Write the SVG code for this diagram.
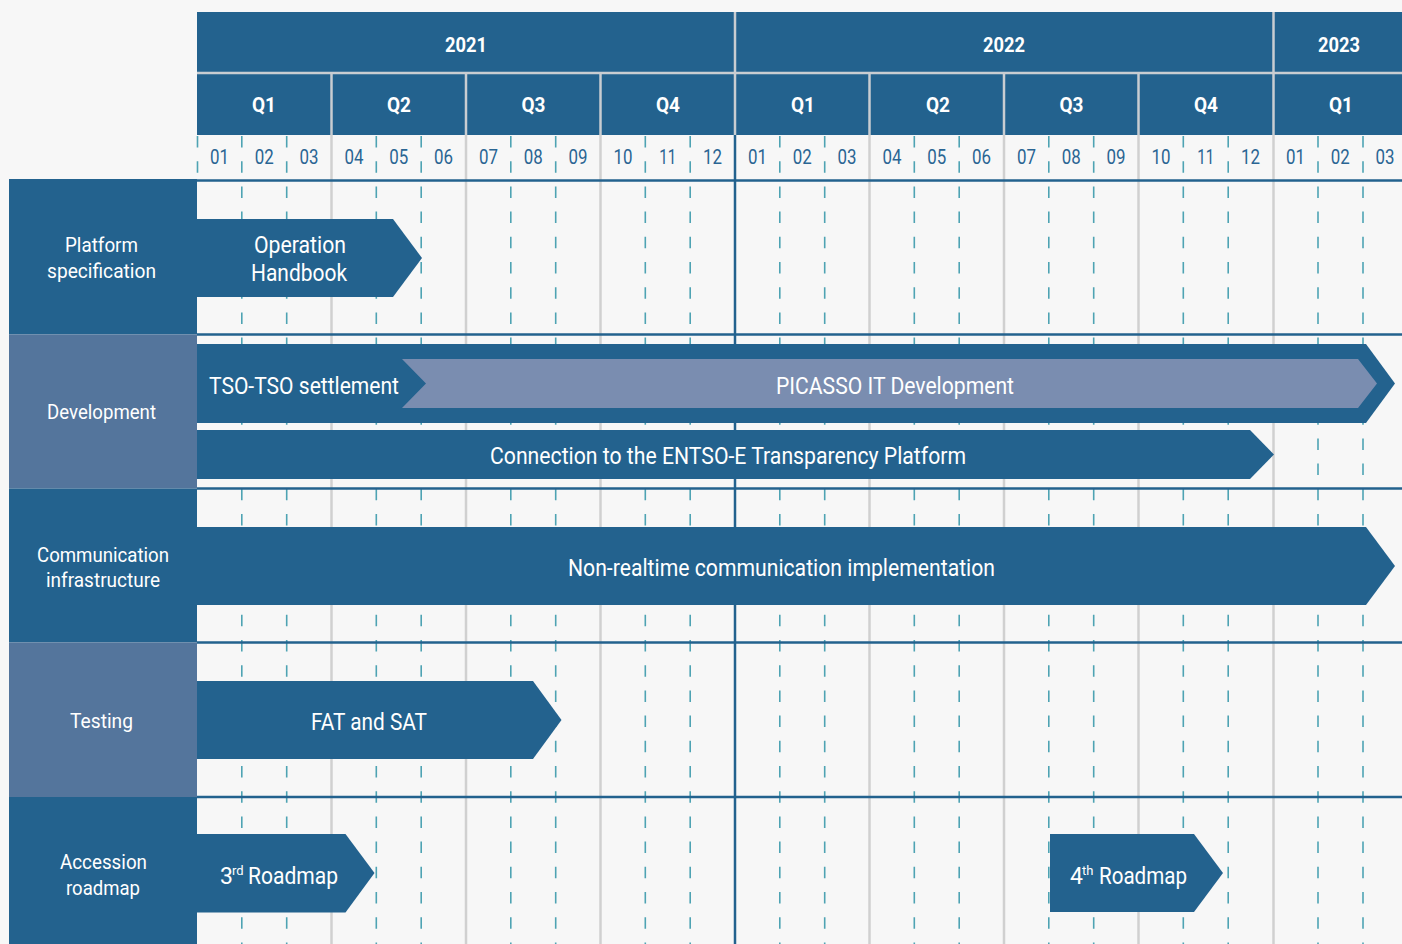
<svg xmlns="http://www.w3.org/2000/svg" width="1402" height="944" viewBox="0 0 1402 944">
<style>
.hd{fill:#23628e}
.sep{stroke:#c9cdd1;stroke-width:2.5}
.q{stroke:#d0d0d0;stroke-width:2.5}
.yl{stroke:#23628e;stroke-width:2.5}
.dash{stroke:#4ea3b3;stroke-width:1.6;stroke-dasharray:11.5 13.7}
.row{stroke:#23628e;stroke-width:2.6}
.dark{fill:#23628e}
.light{fill:#54759c}
.pic{fill:#7a8db0}
text{font-family:Roboto,"Liberation Sans",sans-serif;fill:#ffffff;text-anchor:middle}
.yr{font-size:21px;font-weight:bold}
.mo{font-size:20px;fill:#2a6593}
.lb{font-size:21px}
.bar{font-size:23px}
</style>
<rect x="0" y="0" width="1402" height="944" fill="#f7f7f7"/>

<g id="header">
  <rect class="hd" x="197" y="12" width="1205" height="123"/>
  <line class="sep" x1="197" y1="73" x2="1402" y2="73"/>
  <line class="sep" x1="735" y1="12" x2="735" y2="135"/>
  <line class="sep" x1="1273.5" y1="12" x2="1273.5" y2="135"/>
  <g class="sep">
    <line x1="331.5" y1="74" x2="331.5" y2="135"/>
    <line x1="466" y1="74" x2="466" y2="135"/>
    <line x1="600.5" y1="74" x2="600.5" y2="135"/>
    <line x1="869.5" y1="74" x2="869.5" y2="135"/>
    <line x1="1004" y1="74" x2="1004" y2="135"/>
    <line x1="1138.5" y1="74" x2="1138.5" y2="135"/>
  </g>
  <text class="yr" x="466" y="51.5" textLength="42" lengthAdjust="spacingAndGlyphs">2021</text>
  <text class="yr" x="1004" y="51.5" textLength="42" lengthAdjust="spacingAndGlyphs">2022</text>
  <text class="yr" x="1339" y="51.5" textLength="42" lengthAdjust="spacingAndGlyphs">2023</text>
  <g class="yr">
    <text class="yr" x="264" y="111.5" textLength="24" lengthAdjust="spacingAndGlyphs">Q1</text>
    <text class="yr" x="399" y="111.5" textLength="24" lengthAdjust="spacingAndGlyphs">Q2</text>
    <text class="yr" x="533.5" y="111.5" textLength="24" lengthAdjust="spacingAndGlyphs">Q3</text>
    <text class="yr" x="668" y="111.5" textLength="24" lengthAdjust="spacingAndGlyphs">Q4</text>
    <text class="yr" x="803" y="111.5" textLength="24" lengthAdjust="spacingAndGlyphs">Q1</text>
    <text class="yr" x="938" y="111.5" textLength="24" lengthAdjust="spacingAndGlyphs">Q2</text>
    <text class="yr" x="1071.5" y="111.5" textLength="24" lengthAdjust="spacingAndGlyphs">Q3</text>
    <text class="yr" x="1206" y="111.5" textLength="24" lengthAdjust="spacingAndGlyphs">Q4</text>
    <text class="yr" x="1341" y="111.5" textLength="24" lengthAdjust="spacingAndGlyphs">Q1</text>
  </g>
</g>

<g id="grid">
  <g class="q">
    <line x1="331.5" y1="135" x2="331.5" y2="944"/>
    <line x1="466" y1="135" x2="466" y2="944"/>
    <line x1="600.5" y1="135" x2="600.5" y2="944"/>
    <line x1="869.5" y1="135" x2="869.5" y2="944"/>
    <line x1="1004" y1="135" x2="1004" y2="944"/>
    <line x1="1138.5" y1="135" x2="1138.5" y2="944"/>
    <line x1="1273.5" y1="135" x2="1273.5" y2="944"/>
  </g>
  <line class="yl" x1="735" y1="135" x2="735" y2="944"/>
  <line class="dash" x1="197.5" y1="136" x2="197.5" y2="178"/>
  <g class="dash">
    <line x1="241.8" y1="136" x2="241.8" y2="944"/>
    <line x1="286.7" y1="136" x2="286.7" y2="944"/>
    <line x1="376.3" y1="136" x2="376.3" y2="944"/>
    <line x1="421.2" y1="136" x2="421.2" y2="944"/>
    <line x1="510.8" y1="136" x2="510.8" y2="944"/>
    <line x1="555.7" y1="136" x2="555.7" y2="944"/>
    <line x1="645.3" y1="136" x2="645.3" y2="944"/>
    <line x1="690.2" y1="136" x2="690.2" y2="944"/>
    <line x1="779.8" y1="136" x2="779.8" y2="944"/>
    <line x1="824.7" y1="136" x2="824.7" y2="944"/>
    <line x1="914.3" y1="136" x2="914.3" y2="944"/>
    <line x1="959.2" y1="136" x2="959.2" y2="944"/>
    <line x1="1048.8" y1="136" x2="1048.8" y2="944"/>
    <line x1="1093.7" y1="136" x2="1093.7" y2="944"/>
    <line x1="1183.3" y1="136" x2="1183.3" y2="944"/>
    <line x1="1228.2" y1="136" x2="1228.2" y2="944"/>
    <line x1="1318" y1="136" x2="1318" y2="944"/>
    <line x1="1363" y1="136" x2="1363" y2="944"/>
  </g>
  <g class="row">
    <line x1="197" y1="180.5" x2="1402" y2="180.5"/>
    <line x1="197" y1="334.5" x2="1402" y2="334.5"/>
    <line x1="197" y1="488.5" x2="1402" y2="488.5"/>
    <line x1="197" y1="642.5" x2="1402" y2="642.5"/>
    <line x1="197" y1="797" x2="1402" y2="797"/>
  </g>
  <g class="mo">
    <text class="mo" x="219.4" y="163.5" textLength="19" lengthAdjust="spacingAndGlyphs">01</text>
    <text class="mo" x="264.3" y="163.5" textLength="19" lengthAdjust="spacingAndGlyphs">02</text>
    <text class="mo" x="309.1" y="163.5" textLength="19" lengthAdjust="spacingAndGlyphs">03</text>
    <text class="mo" x="353.9" y="163.5" textLength="19" lengthAdjust="spacingAndGlyphs">04</text>
    <text class="mo" x="398.8" y="163.5" textLength="19" lengthAdjust="spacingAndGlyphs">05</text>
    <text class="mo" x="443.6" y="163.5" textLength="19" lengthAdjust="spacingAndGlyphs">06</text>
    <text class="mo" x="488.4" y="163.5" textLength="19" lengthAdjust="spacingAndGlyphs">07</text>
    <text class="mo" x="533.3" y="163.5" textLength="19" lengthAdjust="spacingAndGlyphs">08</text>
    <text class="mo" x="578.1" y="163.5" textLength="19" lengthAdjust="spacingAndGlyphs">09</text>
    <text class="mo" x="622.9" y="163.5" textLength="19" lengthAdjust="spacingAndGlyphs">10</text>
    <text class="mo" x="667.8" y="163.5" textLength="17" lengthAdjust="spacingAndGlyphs">11</text>
    <text class="mo" x="712.6" y="163.5" textLength="19" lengthAdjust="spacingAndGlyphs">12</text>
    <text class="mo" x="757.4" y="163.5" textLength="19" lengthAdjust="spacingAndGlyphs">01</text>
    <text class="mo" x="802.3" y="163.5" textLength="19" lengthAdjust="spacingAndGlyphs">02</text>
    <text class="mo" x="847.1" y="163.5" textLength="19" lengthAdjust="spacingAndGlyphs">03</text>
    <text class="mo" x="891.9" y="163.5" textLength="19" lengthAdjust="spacingAndGlyphs">04</text>
    <text class="mo" x="936.8" y="163.5" textLength="19" lengthAdjust="spacingAndGlyphs">05</text>
    <text class="mo" x="981.6" y="163.5" textLength="19" lengthAdjust="spacingAndGlyphs">06</text>
    <text class="mo" x="1026.4" y="163.5" textLength="19" lengthAdjust="spacingAndGlyphs">07</text>
    <text class="mo" x="1071.3" y="163.5" textLength="19" lengthAdjust="spacingAndGlyphs">08</text>
    <text class="mo" x="1116.1" y="163.5" textLength="19" lengthAdjust="spacingAndGlyphs">09</text>
    <text class="mo" x="1160.9" y="163.5" textLength="19" lengthAdjust="spacingAndGlyphs">10</text>
    <text class="mo" x="1205.8" y="163.5" textLength="17" lengthAdjust="spacingAndGlyphs">11</text>
    <text class="mo" x="1250.6" y="163.5" textLength="19" lengthAdjust="spacingAndGlyphs">12</text>
    <text class="mo" x="1295.4" y="163.5" textLength="19" lengthAdjust="spacingAndGlyphs">01</text>
    <text class="mo" x="1340.3" y="163.5" textLength="19" lengthAdjust="spacingAndGlyphs">02</text>
    <text class="mo" x="1385.1" y="163.5" textLength="19" lengthAdjust="spacingAndGlyphs">03</text>
  </g>
</g>

<g id="lane-platform">
  <rect class="dark" x="9" y="179" width="188" height="155.5"/>
  <text class="lb" x="101.5" y="252" textLength="73" lengthAdjust="spacingAndGlyphs">Platform</text>
  <text class="lb" x="101.5" y="278" textLength="109" lengthAdjust="spacingAndGlyphs">specification</text>
</g>
<g id="lane-development">
  <rect class="light" x="9" y="334.5" width="188" height="154"/>
  <text class="lb" x="101.5" y="419" textLength="109" lengthAdjust="spacingAndGlyphs">Development</text>
</g>
<g id="lane-communication">
  <rect class="dark" x="9" y="488.5" width="188" height="154"/>
  <text class="lb" x="103" y="562" textLength="132" lengthAdjust="spacingAndGlyphs">Communication</text>
  <text class="lb" x="103" y="587" textLength="114" lengthAdjust="spacingAndGlyphs">infrastructure</text>
</g>
<g id="lane-testing">
  <rect class="light" x="9" y="642.5" width="188" height="154.5"/>
  <text class="lb" x="101.5" y="728" textLength="63" lengthAdjust="spacingAndGlyphs">Testing</text>
</g>
<g id="lane-accession">
  <rect class="dark" x="9" y="797" width="188" height="147"/>
  <text class="lb" x="103.5" y="869" textLength="87" lengthAdjust="spacingAndGlyphs">Accession</text>
  <text class="lb" x="103" y="895" textLength="74" lengthAdjust="spacingAndGlyphs">roadmap</text>
</g>

<g id="bar-operation-handbook">
  <path class="dark" d="M197,219 H393 L422,258 L393,297 H197 Z"/>
  <text class="bar" x="300" y="253" textLength="92" lengthAdjust="spacingAndGlyphs">Operation</text>
  <text class="bar" x="299" y="281" textLength="96" lengthAdjust="spacingAndGlyphs">Handbook</text>
</g>
<g id="bar-tso-settlement">
  <path class="dark" d="M197,344 H1366 L1395,383.5 L1366,423 H197 Z"/>
  <text class="bar" x="304" y="393.5" textLength="190" lengthAdjust="spacingAndGlyphs">TSO-TSO settlement</text>
</g>
<g id="bar-picasso">
  <path class="pic" d="M402,359 H1358 L1377,383.5 L1358,408 H402 L426,383.5 Z"/>
  <text class="bar" x="895" y="393.5" textLength="238" lengthAdjust="spacingAndGlyphs">PICASSO IT Development</text>
</g>
<g id="bar-connection">
  <path class="dark" d="M197,430 H1250 L1274,454.5 L1250,479 H197 Z"/>
  <text class="bar" x="728" y="464" textLength="476" lengthAdjust="spacingAndGlyphs">Connection to the ENTSO-E Transparency Platform</text>
</g>
<g id="bar-nonrealtime">
  <path class="dark" d="M197,527 H1366 L1395,566 L1366,605 H197 Z"/>
  <text class="bar" x="781.5" y="575.5" textLength="427" lengthAdjust="spacingAndGlyphs">Non-realtime communication implementation</text>
</g>
<g id="bar-fat-sat">
  <path class="dark" d="M197,681 H533 L561.5,720 L533,759 H197 Z"/>
  <text class="bar" x="369" y="729.5" textLength="116" lengthAdjust="spacingAndGlyphs">FAT and SAT</text>
</g>
<g id="bar-3rd-roadmap">
  <path class="dark" d="M197,834 H345.5 L374.5,873 L345.5,912.5 H197 Z"/>
  <text class="bar" style="text-anchor:start" y="883.5"><tspan x="220">3</tspan><tspan x="232" dy="-9" style="font-size:13px">rd</tspan><tspan x="248" dy="9" textLength="90" lengthAdjust="spacingAndGlyphs">Roadmap</tspan></text>
</g>
<g id="bar-4th-roadmap">
  <path class="dark" d="M1050,834 H1194 L1223,873 L1194,912 H1050 Z"/>
  <text class="bar" style="text-anchor:start" y="883.5"><tspan x="1070">4</tspan><tspan x="1082" dy="-9" style="font-size:13px">th</tspan><tspan x="1099" dy="9" textLength="88" lengthAdjust="spacingAndGlyphs">Roadmap</tspan></text>
</g>
</svg>
